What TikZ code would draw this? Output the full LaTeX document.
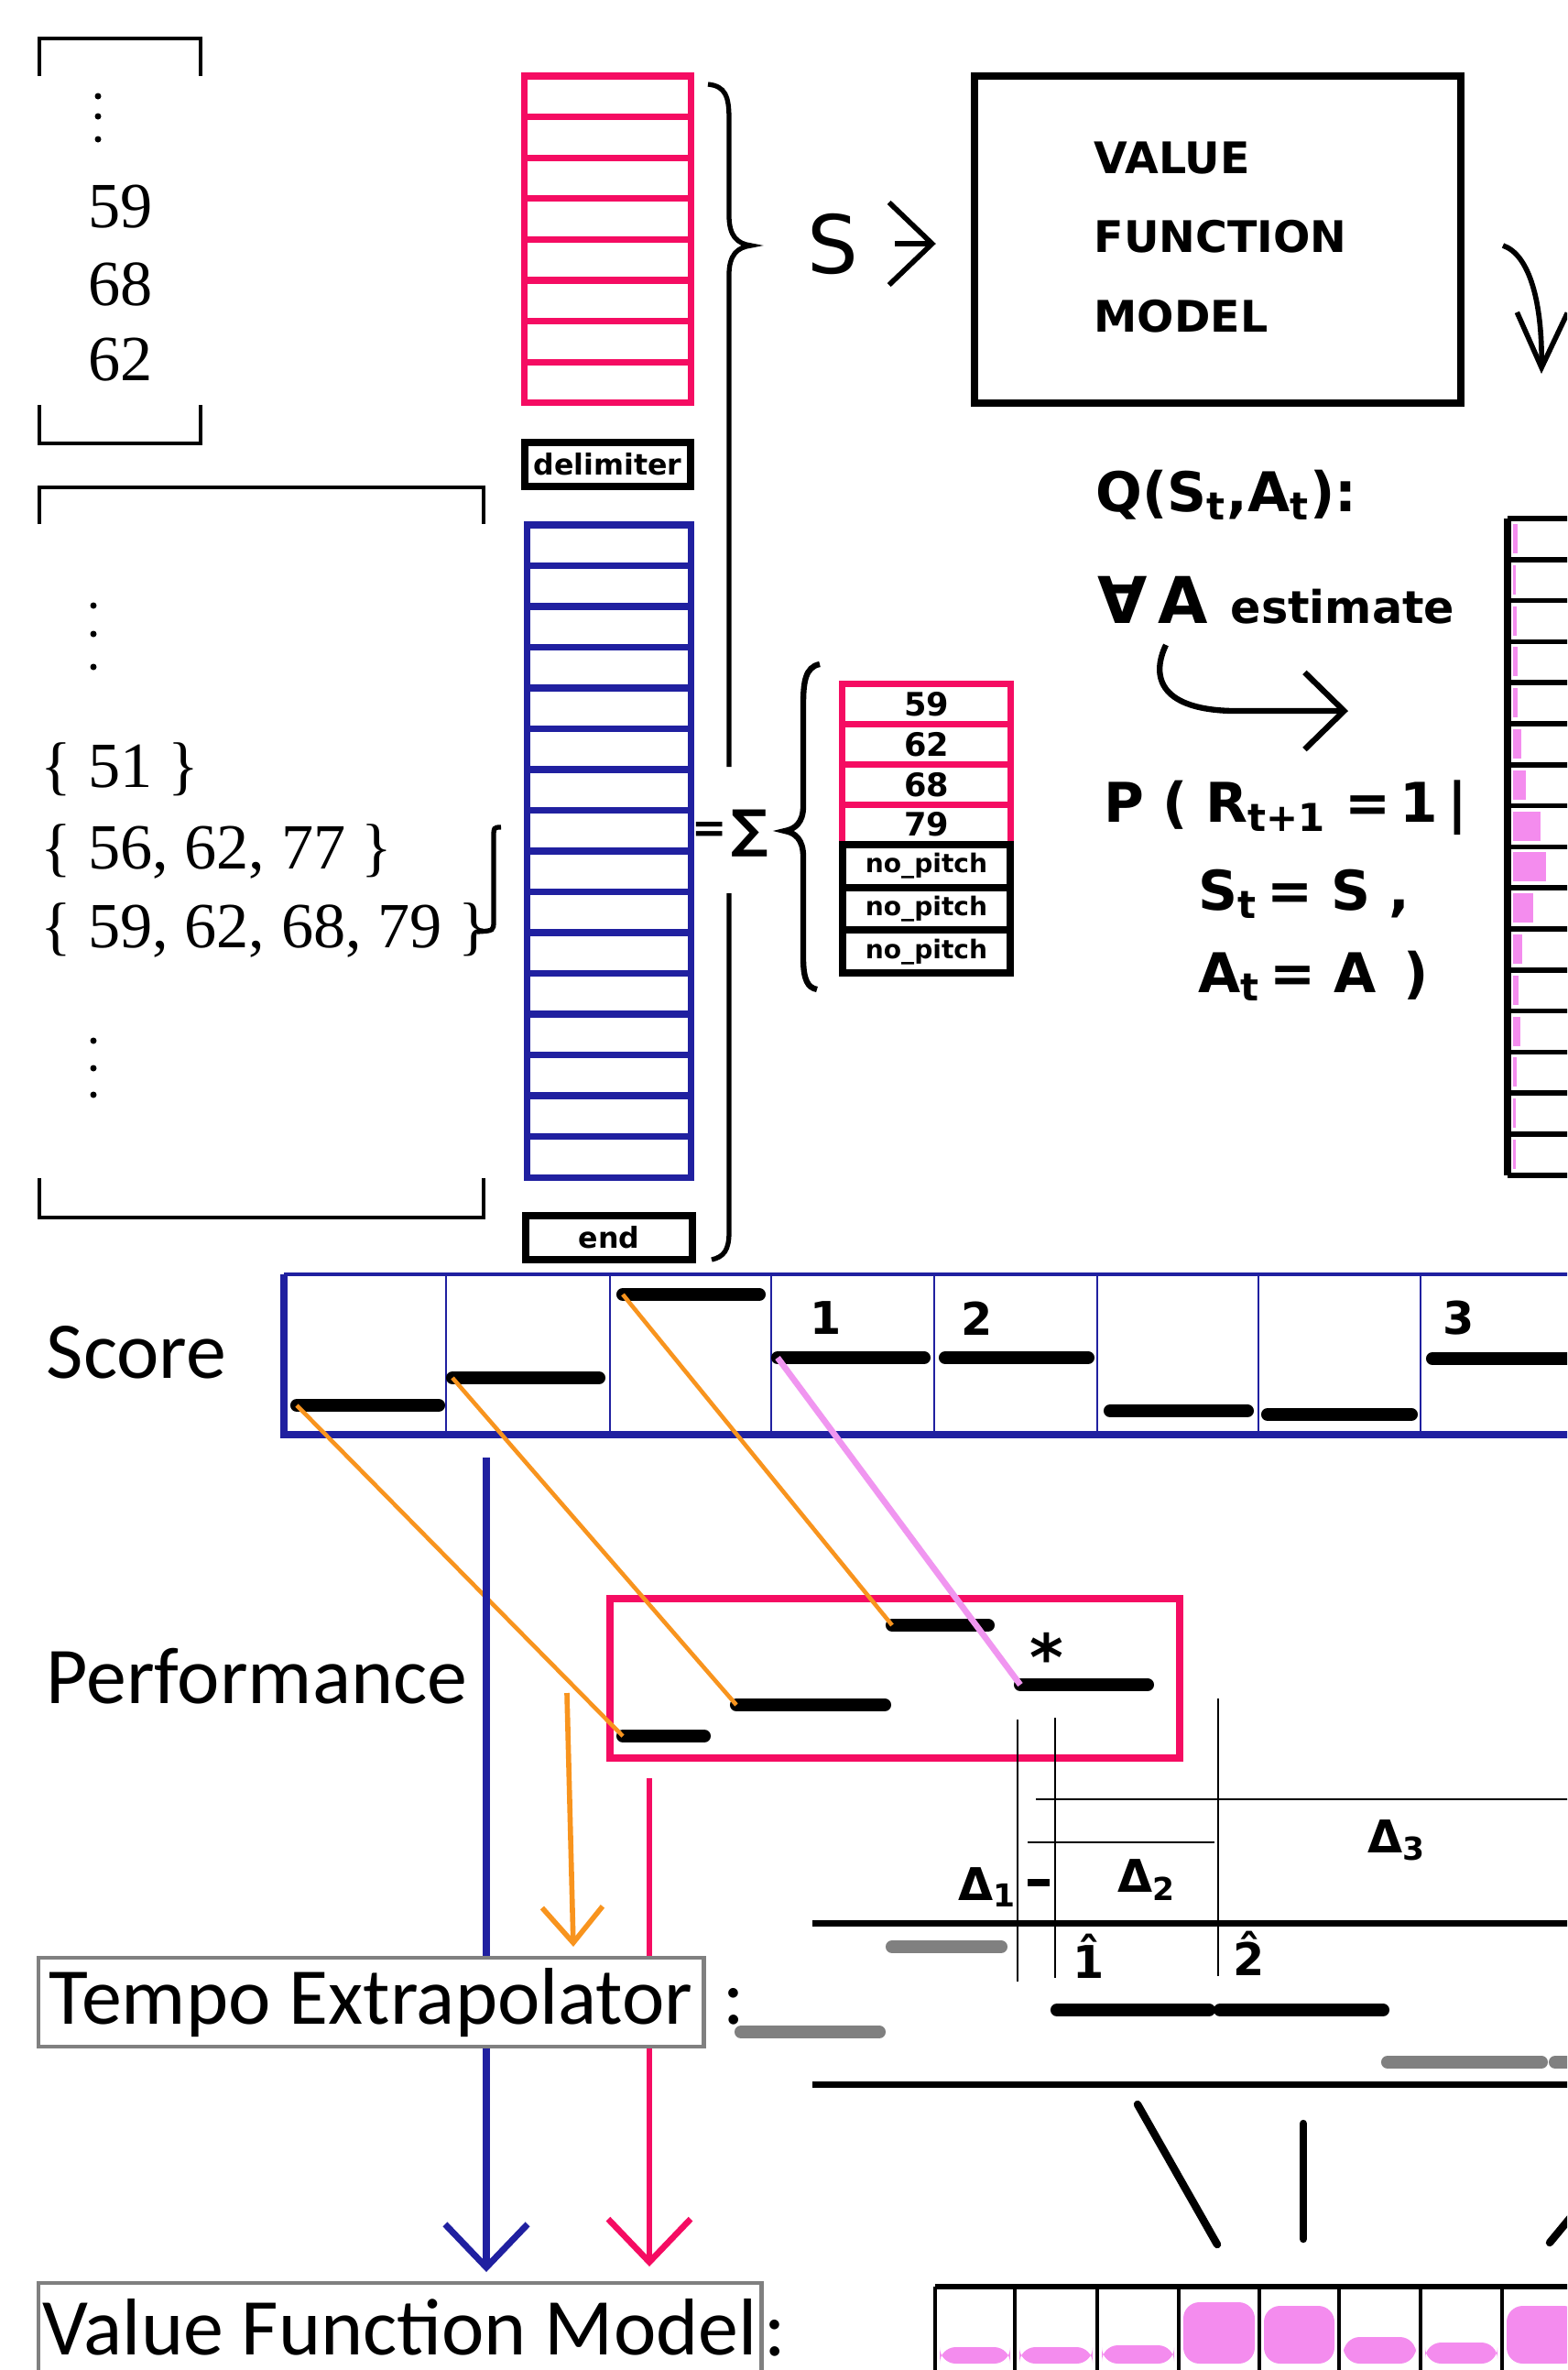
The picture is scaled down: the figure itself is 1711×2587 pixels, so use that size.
\documentclass[tikz,border=0pt]{standalone}
\usepackage{fontspec}
\setmainfont{Liberation Serif}
\newfontfamily\calfont{Carlito}
\newfontfamily\handfont{DejaVu Sans}
\usetikzlibrary{arrows.meta,positioning}
\definecolor{SeqPink}{RGB}{245,12,98}
\definecolor{SeqBlue}{RGB}{32,32,160}
\definecolor{MatchOrange}{RGB}{248,148,30}
\definecolor{MatchViolet}{RGB}{240,150,240}
\definecolor{ProbPink}{RGB}{244,140,238}
\definecolor{GhostGray}{RGB}{128,128,128}
\newcommand\hsz[1]{\handfont\bfseries\fontsize{#1}{#1}\selectfont}
\newcommand\csz{\calfont\fontsize{25}{25}\selectfont}
\newcommand\ssz{\fontsize{20}{20}\selectfont}

\begin{document}
\begin{tikzpicture}[x=0.01cm,y=-0.01cm,
  pcell/.style={draw=SeqPink,line width=2pt,minimum width=1.81cm,minimum height=0.446cm,inner sep=0pt},
  bcell/.style={draw=SeqBlue,line width=2pt,minimum width=1.78cm,minimum height=0.445cm,inner sep=0pt},
  scell/.style={draw=SeqPink,line width=2pt,minimum width=1.83cm,minimum height=0.4375cm,inner sep=0pt,font=\hsz{10}},
  kbox/.style={draw,line width=2.3pt,minimum width=1.81cm,minimum height=0.48cm,inner sep=0pt,font=\hsz{9}},
  gbox/.style={draw=GhostGray,line width=1.2pt,inner sep=0pt,font=\csz},
  note/.style={line width=4pt,line cap=round},
  ghost/.style={line width=4pt,line cap=round,GhostGray},
  barb/.style={-{Straight Barb[length=4.7mm,width=9mm]}},
  rule/.style={line width=2pt},
  hair/.style={line width=0.8pt},
  tick/.style={line width=2.4pt,line cap=round},
  lbl/.style={inner sep=0pt,anchor=base west,font=\csz}]
\useasboundingbox (0,0) rectangle (1711,2587);
\clip (0,0) rectangle (1711,2587);

% pitch list and sets
\draw[line width=1.3pt] (43,83) -- (43,42) -- (219,42) -- (219,83);
\draw[line width=1.3pt] (43,442) -- (43,484) -- (219,484) -- (219,442);
\foreach \y in {105,127,152} \fill (107,\y) circle (3.5);
\foreach \v/\y in {59/248,68/333,62/415}
  \node[inner sep=0pt,anchor=base,font=\ssz] (top\v) at (132,\y) {\v};
\draw[line width=1.3pt] (43,572) -- (43,532) -- (528,532) -- (528,572);
\draw[line width=1.3pt] (43,1286) -- (43,1329) -- (528,1329) -- (528,1286);
\foreach \y in {661,692,728,1136,1166,1195} \fill (102,\y) circle (3.5);
\node[inner sep=0pt,anchor=base west,font=\ssz] (setA) at (44,859) {\{ 51 \}};
\node[inner sep=0pt,anchor=base west,font=\ssz] (setB) at (44,948) {\{ 56, 62, 77 \}};
\node[inner sep=0pt,anchor=base west,font=\ssz] (setC) at (44,1034) {\{ 59, 62, 68, 79 \}};
\draw[line width=1.5pt] (547,903) .. controls (539,903) .. (539,915) -- (539,1005) .. controls (539,1016) .. (521,1017);

% token stacks
\foreach \i in {0,...,7} \node[pcell] (pk\i) at (663.5,105.3+44.6*\i) {};
\node[kbox] (delim) at (663.5,507) {delimiter};
\foreach \i in {0,...,15} \node[bcell] (bl\i) at (665,595.25+44.5*\i) {};
\node[kbox] (endtok) at (665,1351) {end};
\draw[line width=1.5pt] (773,92) .. controls (792,94) and (796,105) .. (796,130) -- (796,235)
  .. controls (796,258) and (805,266) .. (820,268) .. controls (805,270) and (796,278) .. (796,300) -- (796,837);
\draw[line width=1.5pt] (796,975) -- (796,1345) .. controls (796,1365) and (790,1372) .. (777,1375);
\node[font=\hsz{13}] (eqsign) at (775,908) {=};
\node[font=\hsz{16}] (sumsign) at (819,910) {∑};
\draw[line width=1.8pt] (895,725) .. controls (879,728) and (877,745) .. (877,770) -- (877,880)
  .. controls (877,898) and (868,905) .. (857,907) .. controls (868,909) and (877,916) .. (877,935) -- (877,1045)
  .. controls (877,1070) and (882,1078) .. (892,1080);
\foreach \v [count=\i] in {59,62,68,79} \node[scell] (sp\i) at (1011.5,747+43.75*\i-21.9) {\v};
\foreach \i in {1,2,3} \node[kbox,minimum width=1.83cm,minimum height=0.467cm,font=\hsz{8}] (np\i) at (1011.5,922+46.7*\i-23.35) {no\_pitch};

% value function model
\node[draw,line width=2.3pt,minimum width=5.31cm,minimum height=3.57cm] (vfm) at (1329.5,261.5) {};
\node[anchor=west,align=left,inner sep=0pt,font=\handfont\bfseries\fontsize{13.5}{24.5}\selectfont] (vfmtxt) at (1194,259) {VALUE\\FUNCTION\\MODEL};
\node[font=\handfont\fontsize{25}{25}\selectfont] (sIn) at (909,266) {S};
\draw[barb,line width=1.6pt,shorten <=0.28cm,shorten >=0.38cm] (sIn.east) -- (sIn.east -| vfm.west);
\coordinate (vfmout) at (1641,268);
\coordinate (qin) at (1683,408);
\draw[-{Straight Barb[length=6mm,width=5.5mm]},line width=1.6pt] (vfmout) .. controls (1670,278) and (1684,330) .. (qin);
\node[anchor=west,inner sep=0pt,font=\hsz{17}] (qdef) at (1196,540) {Q(S\textsubscript{t},A\textsubscript{t}):};
\node[anchor=west,inner sep=0pt,font=\hsz{20}] (forall) at (1198,655) {∀\,A};
\node[anchor=west,inner sep=0pt,font=\hsz{14}] (estim) at (1343,662) {estimate};
\coordinate (estA) at (1273,704);
\coordinate (estB) at (1472,776);
\draw[-{Straight Barb[length=4.3mm,width=8.4mm]},line width=1.8pt] (estA) .. controls (1258,735) and (1262,774) .. (1345,776) -- (estB);
\node[anchor=west,inner sep=0pt,font=\hsz{17}] (pline) at (1205,882) {P\,\,(\,\,R\textsubscript{t+1}\,\,=\,1\,|};
\node[anchor=west,inner sep=0pt,font=\hsz{17}] (sline) at (1308,976) {S\textsubscript{t}\,=\,\,S\,\,,};
\node[anchor=west,inner sep=0pt,font=\hsz{17}] (aline) at (1308,1065) {A\textsubscript{t}\,=\,\,A\,\,\,)};

% estimated values per action
\foreach \i/\w in {0/5,1/3,2/4,3/5,4/5,5/9,6/14,7/30,8/36,9/22,10/10,11/6,12/8,13/4,14/3,15/3}
  \fill[ProbPink] (1652,572+44.8*\i) rectangle (1652+\w,604+44.8*\i);
\foreach \i in {0,...,16} \draw[line width=1.6pt] (1646,566+44.8*\i) -- (1720,566+44.8*\i);
\draw[line width=2.4pt] (1646,566) -- (1646,1283);

% score
\draw[SeqBlue,line width=1pt] (310,1391) -- (1720,1391);
\draw[SeqBlue,line width=2.5pt] (310,1391) -- (310,1566) -- (1720,1566);
\foreach \x in {487,666,842,1020,1198,1374,1551} \draw[SeqBlue,line width=0.5pt] (\x,1393) -- (\x,1564);
\node[lbl] (scorelbl) at (50,1504) {Score};
\draw[note] (324,1534) coordinate (sn1) -- (479,1534);
\draw[note] (494,1504) coordinate (sn2) -- (654,1504);
\draw[note] (680,1413) coordinate (sn3) -- (829,1413);
\draw[note] (849,1482) coordinate (sn4) -- (1009,1482);
\draw[note] (1032,1482) -- (1188,1482);
\draw[note] (1212,1540) -- (1362,1540);
\draw[note] (1384,1544) -- (1541,1544);
\draw[note] (1564,1483) -- (1730,1483);
\node[font=\hsz{14}] (beat1) at (902,1439) {1};
\node[font=\hsz{14}] (beat2) at (1067,1439) {2};
\node[font=\hsz{14}] (beat3) at (1593,1439) {3};

% performance
\node[lbl] (perflbl) at (50,1859) {Performance};
\node[draw=SeqPink,line width=2.3pt,minimum width=6.22cm,minimum height=1.74cm] (perf) at (977,1832) {};
\draw[note] (680,1895) coordinate (pn1) -- (769,1895);
\draw[note] (804,1861) coordinate (pn2) -- (966,1861);
\draw[note] (974,1774) coordinate (pn3) -- (1079,1774);
\draw[note] (1114,1839) coordinate (pn4) -- (1253,1839);
\node[font=\hsz{20}] (star) at (1143,1808) {*};
\foreach \a/\b in {sn1/pn1,sn2/pn2,sn3/pn3} \draw[MatchOrange,line width=1.3pt] (\a) -- (\b);
\draw[MatchViolet,line width=1.9pt] (sn4) -- (pn4);

% pipeline
\node[gbox,anchor=north west,minimum width=7.26cm,minimum height=0.97cm] (tempo) at (40,2135) {Tempo Extrapolator};
\node[inner sep=0pt,font=\csz] (tcolon) at (801,2190) {:};
\node[gbox,anchor=north west,minimum width=7.89cm,minimum height=0.97cm] (vfmlbl) at (40,2490) {Value Function Model};
\node[inner sep=0pt,font=\csz] (vcolon) at (846,2552) {:};
\coordinate (blueTop) at (531,1591);
\coordinate (orangeTop) at (619,1848);
\coordinate (pinkTop) at (709,1941);
\draw[SeqBlue,line width=2pt] (blueTop) -- (blueTop |- tempo.north);
\draw[SeqBlue,line width=2pt,barb,shorten >=0.1cm] (blueTop |- tempo.south) -- (blueTop |- vfmlbl.north);
\draw[MatchOrange,line width=1.6pt,-{Straight Barb[length=3.9mm,width=6.6mm]}] (orangeTop) -- (626,2125);
\draw[SeqPink,line width=1.9pt] (pinkTop) -- (pinkTop |- tempo.north);
\draw[SeqPink,line width=1.9pt,barb,shorten >=0.16cm] (pinkTop |- tempo.south) -- (pinkTop |- vfmlbl.north);

% tempo extrapolation sketch
\draw[hair] (1131,1964) -- (1720,1964);
\draw[hair] (1122,2011) -- (1326,2011);
\foreach \x/\a/\b in {1111/1877/2163,1152/1875/2159,1330/1854/2157} \draw[hair] (\x,\a) -- (\x,\b);
\draw[rule] (887,2099) -- (1720,2099);
\draw[rule] (887,2275) -- (1720,2275);
\draw[line width=2.2pt] (1122,2055) -- (1146,2055);
\node[font=\hsz{14}] (d1) at (1078,2060) {Δ\textsubscript{1}};
\node[font=\hsz{14}] (d2) at (1252,2052) {Δ\textsubscript{2}};
\node[font=\hsz{14}] (d3) at (1525,2009) {Δ\textsubscript{3}};
\node[font=\hsz{14}] (h1) at (1189,2135) {1^^^^0302};
\node[font=\hsz{14}] (h2) at (1364,2132) {2^^^^0302};
\foreach \a/\b/\y in {974/1093/2125,809/960/2218,1515/1683/2251,1698/1740/2251} \draw[ghost] (\a,\y) -- (\b,\y);
\draw[note] (1154,2194) -- (1320,2194);
\draw[note] (1332,2194) -- (1510,2194);
\draw[tick] (1242,2297) -- (1329,2450);
\draw[tick] (1423,2318) -- (1423,2444);
\draw[tick] (1692,2448) -- (1740,2390);

% value estimates row
\foreach \a/\b/\t in {1021/1108/2562,1108/1198/2562,1198/1287/2560,1287/1375/2513,1375/1462/2517,1462/1551/2551,1551/1640/2557,1640/1730/2517}
  \fill[ProbPink,rounded corners=5] (\a+5,\t) rectangle (\b-5,2580);
\draw[line width=1.8pt] (1021,2496) -- (1720,2496);
\foreach \x in {1021,1108,1198,1287,1375,1462,1551,1640} \draw[line width=1.3pt] (\x,2496) -- (\x,2590);
\end{tikzpicture}
\end{document}
